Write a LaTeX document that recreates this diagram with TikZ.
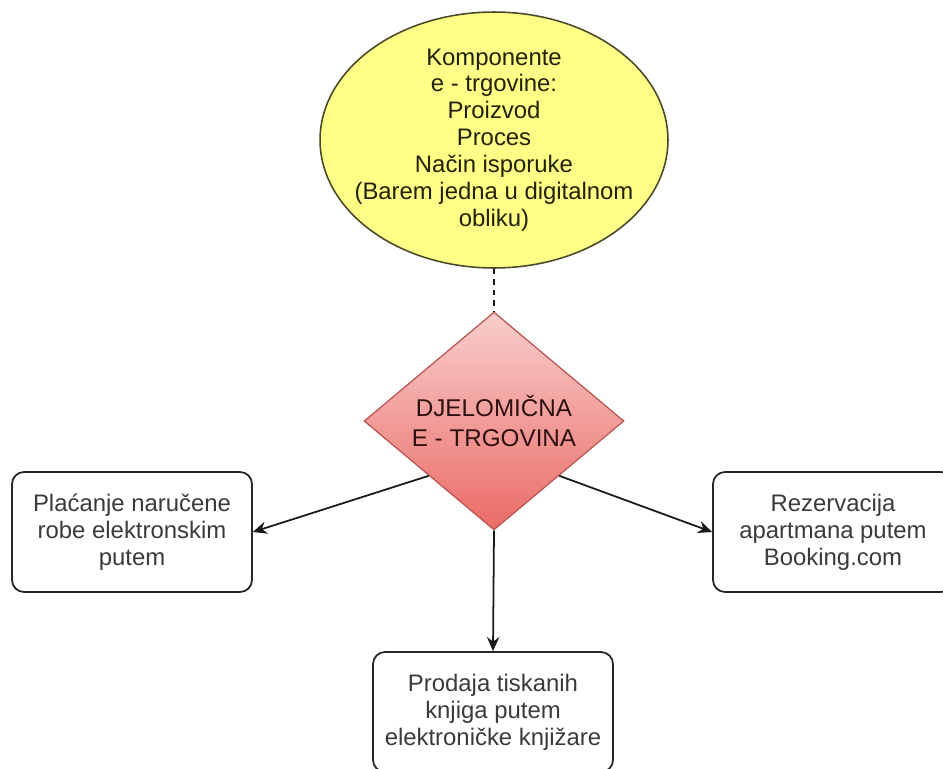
\documentclass[tikz,border=0pt]{standalone}
\usepackage{fontspec}
\setmainfont{Liberation Sans}
\usetikzlibrary{shapes.geometric, arrows.meta}

\definecolor{ellfill}{HTML}{FFFF88}
\definecolor{ellstroke}{HTML}{4A4A28}
\definecolor{elltext}{HTML}{222200}
\definecolor{diatop}{HTML}{F8CECC}
\definecolor{diabottom}{HTML}{EA6B66}
\definecolor{diastroke}{HTML}{B85450}
\definecolor{diatext}{HTML}{2E1010}
\definecolor{boxtext}{HTML}{3A3A3A}

\begin{document}
\begin{tikzpicture}[x=0.02cm, y=-0.02cm, align=center,
    every node/.style={font=\fontsize{13.6}{15.3}\selectfont},
    box/.style={draw=black!85, rounded corners=0.24cm, line width=1pt,
        minimum width=4.8cm, minimum height=2.4cm, text=boxtext},
    link/.style={line width=1pt, black!90},
    >={Stealth[length=8pt, width=7pt]}]

    \useasboundingbox (0,0) rectangle (943,768);
    \clip (0,0) rectangle (943,768);

    % components
    \node (komp) [ellipse, draw=ellstroke, fill=ellfill, line width=0.9pt,
        minimum width=6.96cm, minimum height=5.12cm] at (494,140) {};
    \node (kompText) [text=elltext] at (komp.center)
        {Komponente\\e - trgovine:\\Proizvod\\Proces\\Način isporuke\\(Barem jedna u digitalnom\\obliku)};

    % decision
    \node (djel) [diamond, draw=diastroke, top color=diatop, bottom color=diabottom,
        line width=0.7pt, aspect=1.19, minimum width=5.2cm, minimum height=4.36cm,
        text=diatext, font=\fontsize{13.8}{16.8}\selectfont] at (494,421)
        {DJELOMIČNA\\E - TRGOVINA};

    % examples
    \node (placanje) [box] at (132,532) {Plaćanje naručene\\robe elektronskim\\putem};
    \node (rezerv)   [box] at (833,532) {Rezervacija\\apartmana putem\\Booking.com};
    \node (prodaja)  [box] at (493,712) {Prodaja tiskanih\\knjiga putem\\elektroničke knjižare};

    \draw[link, dashed] (komp.south) -- (djel.north);

    \draw[link, ->] (djel.south west) -- (placanje.east);
    \draw[link, ->] (djel.south east) -- (rezerv.west);
    \draw[link, ->] (djel.south)      -- (prodaja.north);
\end{tikzpicture}
\end{document}
